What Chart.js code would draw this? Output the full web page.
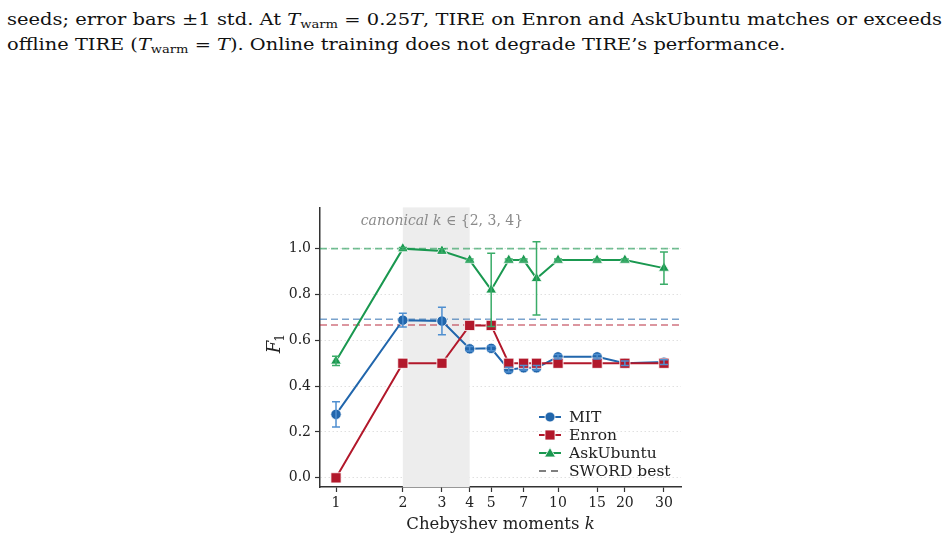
<!DOCTYPE html>
<html>
<head>
<meta charset="utf-8">
<script src="https://cdn.jsdelivr.net/npm/chart.js@4.4.1/dist/chart.umd.min.js"></script>
<style>
  body { margin: 0; width: 947px; height: 540px; background: #fff; position: relative; overflow: hidden; }
  .caption { position: absolute; left: 7px; font-family: "DejaVu Serif", serif; font-size: 17px; color: #111; white-space: nowrap; transform-origin: left top; }
  .caption i { font-style: italic; }
  .caption sub { font-size: 11.5px; vertical-align: -3px; line-height: 0; }
  #chart-wrap { position: absolute; left: 262px; top: 195px; width: 438px; height: 340px; }
  .legend { position: absolute; left: 539px; top: 408px; font-family: "DejaVu Serif", serif; font-size: 15.5px; color: #222; }
  .legend div { height: 18px; line-height: 18px; display: flex; align-items: center; }
  .legend svg { margin-right: 8px; }
</style>
</head>
<body>
<div class="caption" id="cap1" style="top:9px;">seeds; error bars ±1 std. At <i>T</i><sub>warm</sub> = 0.25<i>T</i>, TIRE on Enron and AskUbuntu matches or exceeds</div>
<div class="caption" id="cap2" style="top:34px;">offline TIRE (<i>T</i><sub>warm</sub> = <i>T</i>). Online training does not degrade TIRE’s performance.</div>
<div id="chart-wrap"><canvas id="f1-chart"></canvas></div>
<div class="legend" id="legend"></div>
<script>
// data
const kValues = [1, 2, 3, 4, 5, 6, 7, 8, 10, 15, 20, 30];
const mitF1 = [0.277, 0.688, 0.684, 0.563, 0.565, 0.472, 0.48, 0.48, 0.528, 0.528, 0.50, 0.505];
const mitStd = [0.055, 0.03, 0.06, 0.01, 0.01, 0.01, 0.01, 0.01, 0.01, 0.01, 0.01, 0.01];
const enronF1 = [0.0, 0.5, 0.5, 0.665, 0.665, 0.5, 0.5, 0.5, 0.5, 0.5, 0.5, 0.5];
const enronStd = [0, 0, 0, 0, 0, 0, 0, 0, 0, 0, 0, 0];
const askUbuntuF1 = [0.51, 1.0, 0.99, 0.95, 0.82, 0.95, 0.95, 0.87, 0.95, 0.95, 0.95, 0.915];
const askUbuntuStd = [0.02, 0.005, 0.01, 0.005, 0.16, 0.005, 0.005, 0.16, 0.005, 0.005, 0.005, 0.07];
const swordMit = 0.692;
const swordEnron = 0.667;
const swordAskUbuntu = 1.0;
const xTicks = [1, 2, 3, 4, 5, 7, 10, 15, 20, 30];
const yTicks = [0, 0.2, 0.4, 0.6, 0.8, 1.0];
const canonicalRange = [2, 4];

const X_MIN = 0.847, X_MAX = 35.8;
const BLUE = '#2166ac', RED = '#b2182b', GREEN = '#1a9850';
const SERIF = '"DejaVu Serif", serif';

// stretch caption lines to the full text width like the typeset page
['cap1', 'cap2'].forEach((id, i) => {
  const el = document.getElementById(id);
  const target = i === 0 ? 935 : 778;
  el.style.transform = `scaleX(${target / el.offsetWidth})`;
});

const toPoints = (ys) => ys.map((y, i) => ({ x: kValues[i], y: y }));
const flatLine = (y) => [{ x: X_MIN, y: y }, { x: X_MAX, y: y }];

const series = [
  { label: 'MIT', data: mitF1, std: mitStd, color: BLUE, errColor: '#4f8fd0', shape: 'circle', r: 5.2 },
  { label: 'Enron', data: enronF1, std: enronStd, color: RED, errColor: '#d0505f', shape: 'rect', r: 7.2 },
  { label: 'AskUbuntu', data: askUbuntuF1, std: askUbuntuStd, color: GREEN, errColor: '#3aac68', shape: 'triangle', r: 6.2 }
];

const seriesSets = series.map((s, i) => ({
  label: s.label,
  data: toPoints(s.data),
  borderColor: s.color,
  backgroundColor: s.color,
  borderWidth: 2,
  pointStyle: s.shape,
  pointRadius: s.r,
  pointBorderColor: '#fff',
  pointBorderWidth: 0.8,
  order: [2, 1, 0][i]
}));

const swordSets = [
  [swordAskUbuntu, 'rgba(26,152,80,0.6)'],
  [swordMit, 'rgba(33,102,172,0.6)'],
  [swordEnron, 'rgba(178,24,43,0.6)']
].map(([y, c]) => ({
  label: 'sword',
  data: flatLine(y),
  borderColor: c,
  borderWidth: 1.6,
  borderDash: [7, 4],
  pointRadius: 0,
  order: 10
}));

// draw runs of [text, font] centred on x
const drawRuns = (ctx, runs, cx, cy) => {
  let total = 0;
  runs.forEach(r => { ctx.font = r[1]; total += ctx.measureText(r[0]).width; });
  let x = cx - total / 2;
  runs.forEach(r => {
    ctx.font = r[1];
    ctx.fillText(r[0], x, cy);
    x += ctx.measureText(r[0]).width;
  });
};

// shaded band, canonical label and axis titles
const bandPlugin = {
  id: 'band',
  beforeDatasetsDraw(chart) {
    const { ctx, chartArea, scales } = chart;
    const x0 = scales.x.getPixelForValue(canonicalRange[0]);
    const x1 = scales.x.getPixelForValue(canonicalRange[1]);
    ctx.save();
    ctx.fillStyle = '#ededed';
    ctx.fillRect(x0, chartArea.top, x1 - x0, chartArea.bottom - chartArea.top);
    ctx.fillStyle = '#8a8a8a';
    ctx.textAlign = 'left';
    ctx.textBaseline = 'middle';
    drawRuns(ctx, [['canonical k ', 'italic 14px ' + SERIF], ['∈ {2, 3, 4}', '14px ' + SERIF]],
      scales.x.getPixelForValue(3), chartArea.top + 14);
    ctx.restore();
  },
  afterDraw(chart) {
    const { ctx, chartArea, scales } = chart;
    ctx.save();
    ctx.fillStyle = '#222';
    ctx.textAlign = 'left';
    ctx.textBaseline = 'middle';
    drawRuns(ctx, [['Chebyshev moments ', '16.5px ' + SERIF], ['k', 'italic 16.5px ' + SERIF]],
      (chartArea.left + chartArea.right) / 2, chartArea.bottom + 38);
    // y title: italic F with subscript 1, rotated
    ctx.translate(scales.y.left + 12, (chartArea.top + chartArea.bottom) / 2);
    ctx.rotate(-Math.PI / 2);
    ctx.textBaseline = 'alphabetic';
    ctx.font = 'italic 18px ' + SERIF;
    ctx.fillText('F', -6, 6);
    const fw = ctx.measureText('F').width;
    ctx.font = '12px ' + SERIF;
    ctx.fillText('1', -6 + fw - 1, 10);
    ctx.restore();
  }
};

// ±1 std error bars
const errorBarPlugin = {
  id: 'errorBars',
  afterDatasetsDraw(chart) {
    const { ctx, scales } = chart;
    ctx.save();
    ctx.lineWidth = 1.5;
    series.forEach(s => {
      ctx.strokeStyle = s.errColor;
      s.data.forEach((v, i) => {
        if (!s.std[i]) return;
        const x = scales.x.getPixelForValue(kValues[i]);
        const yt = scales.y.getPixelForValue(v + s.std[i]);
        const yb = scales.y.getPixelForValue(v - s.std[i]);
        ctx.beginPath();
        ctx.moveTo(x, yt); ctx.lineTo(x, yb);
        ctx.moveTo(x - 4, yt); ctx.lineTo(x + 4, yt);
        ctx.moveTo(x - 4, yb); ctx.lineTo(x + 4, yb);
        ctx.stroke();
      });
    });
    ctx.restore();
  }
};

const f1Chart = new Chart(document.getElementById('f1-chart'), {
  type: 'line',
  data: { datasets: [...seriesSets, ...swordSets] },
  options: {
    responsive: true,
    maintainAspectRatio: false,
    animation: false,
    layout: { padding: { left: 0, top: 10, right: 19, bottom: 0 } },
    plugins: { legend: { display: false }, tooltip: { enabled: false } },
    scales: {
      x: {
        type: 'logarithmic',
        min: X_MIN,
        max: X_MAX,
        afterBuildTicks: s => { s.ticks = xTicks.map(v => ({ value: v })); },
        afterFit: s => { s.height = 48; },
        ticks: { color: '#222', font: { family: SERIF, size: 14 }, padding: 3, maxRotation: 0, autoSkip: false,
                 callback: v => String(v) },
        grid: { drawOnChartArea: false, drawTicks: true, tickLength: 5, tickColor: '#333', tickWidth: 1.2 },
        border: { color: '#333', width: 1.5 }
      },
      y: {
        min: -0.04,
        max: 1.18,
        afterBuildTicks: s => { s.ticks = yTicks.map(v => ({ value: v })); },
        afterFit: s => { s.width = 58; },
        ticks: { color: '#222', font: { family: SERIF, size: 14 }, padding: 4, callback: v => v.toFixed(1) },
        grid: { color: '#d8d8d8', lineWidth: 0.8, drawTicks: true, tickLength: 5, tickColor: '#333', tickWidth: 1.2, tickBorderDash: [] },
        border: { color: '#333', width: 1.5, dash: [1.5, 2.5] }
      }
    }
  },
  plugins: [bandPlugin, errorBarPlugin]
});

// legend with line + marker swatches
const markerSvg = (shape, color) => {
  if (shape === 'circle') return `<circle cx="11" cy="7" r="5" fill="${color}" stroke="#fff" stroke-width="0.8"/>`;
  if (shape === 'rect') return `<rect x="6" y="2" width="10" height="10" fill="${color}" stroke="#fff" stroke-width="0.8"/>`;
  if (shape === 'triangle') return `<polygon points="11,1.5 16.5,11 5.5,11" fill="${color}" stroke="#fff" stroke-width="0.8"/>`;
  return '';
};
const legendEl = document.getElementById('legend');
series.forEach(s => {
  legendEl.innerHTML += `<div><svg width="22" height="14"><line x1="0" y1="7" x2="22" y2="7" stroke="${s.color}" stroke-width="2"/>${markerSvg(s.shape, s.color)}</svg>${s.label}</div>`;
});
legendEl.innerHTML += `<div><svg width="22" height="14"><line x1="0" y1="7" x2="22" y2="7" stroke="#555" stroke-width="1.6" stroke-dasharray="7,5"/></svg>SWORD best</div>`;
</script>
</body>
</html>
